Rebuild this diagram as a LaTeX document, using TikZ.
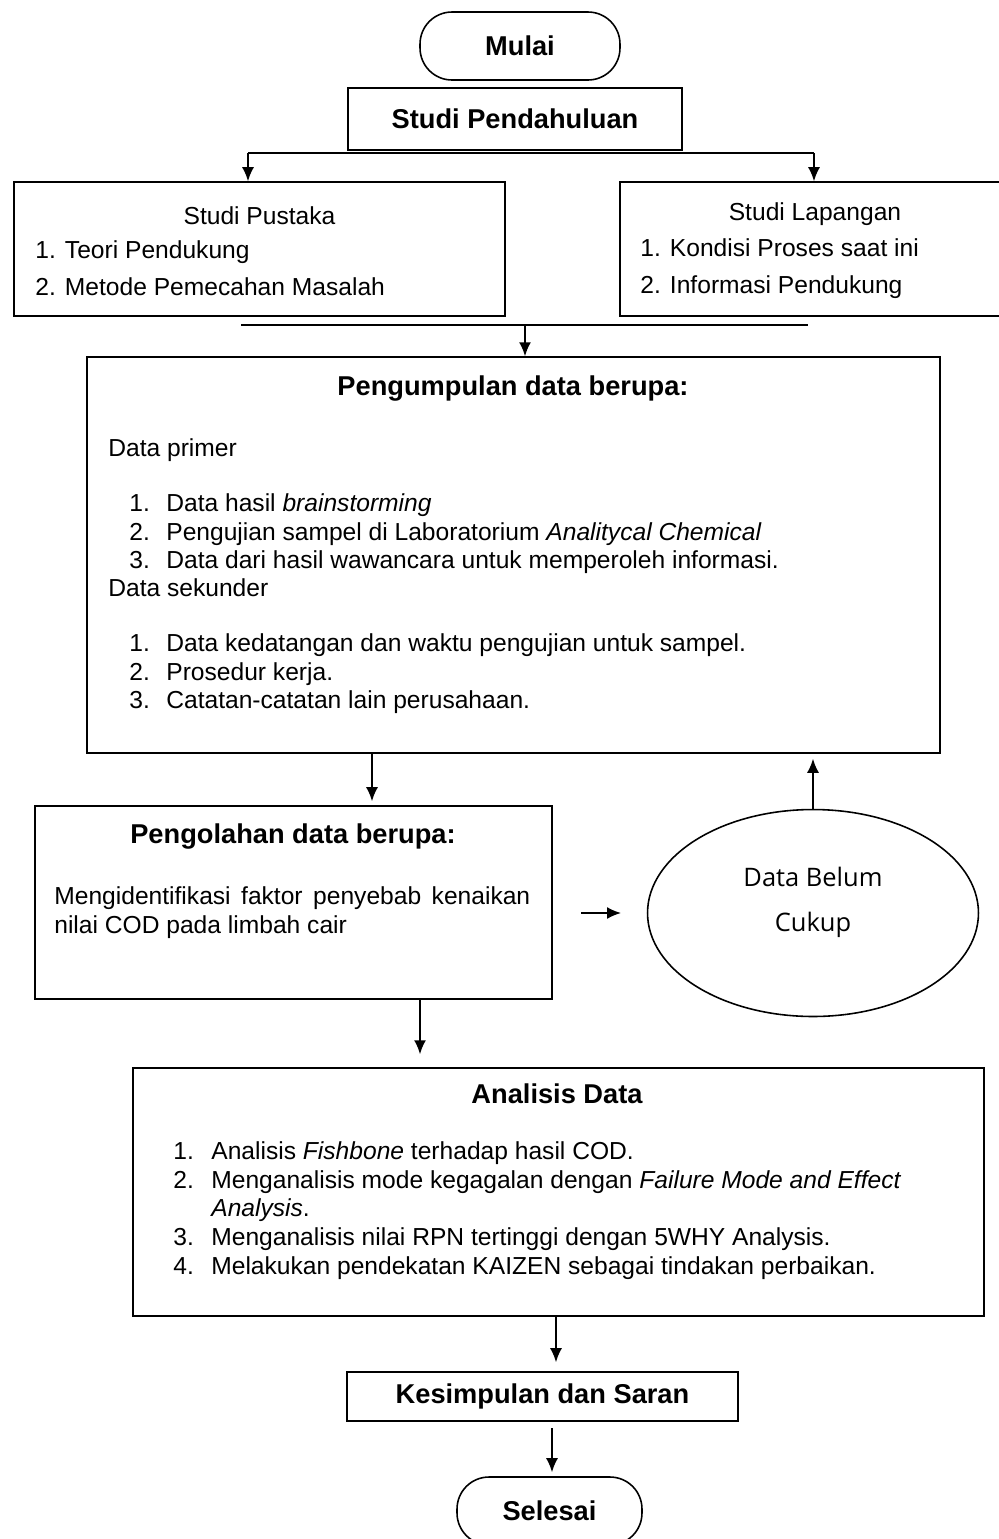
\documentclass[tikz,border=0pt]{standalone}
\usepackage{fontspec}
\setmainfont{Liberation Sans}
\newfontfamily\ellfont{Open Sans}
\usetikzlibrary{arrows.meta,shapes.geometric}

\tikzset{
  box/.style={draw,line width=0.9pt,inner sep=0pt},
  term/.style={draw,line width=0.9pt,rounded corners=0.64cm,inner sep=0pt},
  ttl/.style={font=\fontsize{15.5}{18}\selectfont\bfseries,anchor=base,inner sep=0pt},
  txt/.style={font=\fontsize{14}{16}\selectfont,anchor=base west,inner sep=0pt},
  arr/.style={-{Latex[length=0.28cm,width=0.24cm]},line width=1pt},
}

\begin{document}
\begin{tikzpicture}[x=0.02cm,y=-0.02cm]
\clip (0,0) rectangle (999,1539);

% awal
\node[term,minimum width=4cm,minimum height=1.36cm,font=\fontsize{15.5}{18}\selectfont\bfseries] (mulai) at (520,46) {Mulai};
\node[box,minimum width=6.68cm,minimum height=1.24cm,font=\fontsize{15.5}{18}\selectfont\bfseries] (pend) at (515,119) {Studi Pendahuluan};

% studi pustaka dan lapangan
\node[box,minimum width=9.82cm,minimum height=2.68cm] (pust) at (259.5,249) {};
\node[box,minimum width=7.7cm,minimum height=2.68cm] (lap) at (812.5,249) {};
\node[txt,anchor=base] (pustT) at (259.5,224) {Studi Pustaka};
\node[txt] (pust1) at (35,258) {1. Teori Pendukung};
\node[txt] (pust2) at (35,295) {2. Metode Pemecahan Masalah};
\node[txt,anchor=base] (lapT) at (815,220) {Studi Lapangan};
\node[txt] (lap1) at (640,256) {1. Kondisi Proses saat ini};
\node[txt] (lap2) at (640,293) {2. Informasi Pendukung};

% pengumpulan data
\node[box,minimum width=17.06cm,minimum height=7.92cm] (kump) at (513.5,555) {};
\node[ttl] (kumpT) at (513,395) {Pengumpulan data berupa:};
\node[txt] (prim) at (108,456) {Data primer};
\foreach \n/\y/\t in {1/511/{Data hasil \textit{brainstorming}},
                      2/540/{Pengujian sampel di Laboratorium \textit{Analitycal Chemical}},
                      3/568/{Data dari hasil wawancara untuk memperoleh informasi.}}
  {\node[txt] (primN\n) at (129,\y) {\n.};
   \node[txt] (prim\n) at (166,\y) {\t};}
\node[txt] (sek) at (108,596) {Data sekunder};
\foreach \n/\y/\t in {1/651/{Data kedatangan dan waktu pengujian untuk sampel.},
                      2/680/{Prosedur kerja.},
                      3/708/{Catatan-catatan lain perusahaan.}}
  {\node[txt] (sekN\n) at (129,\y) {\n.};
   \node[txt] (sek\n) at (166,\y) {\t};}

% pengolahan data
\node[box,minimum width=10.34cm,minimum height=3.86cm] (olah) at (293.5,902.5) {};
\node[ttl] (olahT) at (293,843) {Pengolahan data berupa:};
\node[txt] (olah1) at (54,904) {\makebox[9.52cm][s]{Mengidentifikasi faktor penyebab kenaikan}};
\node[txt] (olah2) at (54,933) {nilai COD pada limbah cair};

\node[draw,ellipse,line width=0.9pt,minimum width=6.62cm,minimum height=4.14cm,inner sep=0pt] (ell) at (813,913) {};
\node[font=\ellfont\fontsize{14.5}{17}\selectfont,anchor=base,inner sep=0pt] (ell1) at (813,886) {Data Belum};
\node[font=\ellfont\fontsize{14.5}{17}\selectfont,anchor=base,inner sep=0pt] (ell2) at (813,931) {Cukup};

% analisis data
\node[box,minimum width=17.02cm,minimum height=4.96cm] (ana) at (558.5,1192) {};
\node[ttl] (anaT) at (557,1103) {Analisis Data};
\foreach \n/\y/\t in {1/1159/{Analisis \textit{Fishbone} terhadap hasil COD.},
                      2/1188/{Menganalisis mode kegagalan dengan \textit{Failure Mode and Effect}},
                      3/1245/{Menganalisis nilai RPN tertinggi dengan 5WHY Analysis.},
                      4/1274/{Melakukan pendekatan KAIZEN sebagai tindakan perbaikan.}}
  {\node[txt] (anaN\n) at (173,\y) {\n.};
   \node[txt] (ana\n) at (211,\y) {\t};}
\node[txt] (ana2b) at (211,1216) {\textit{Analysis}.};

% akhir
\node[box,minimum width=7.82cm,minimum height=0.98cm,font=\fontsize{15.5}{18}\selectfont\bfseries] (kes) at (542.5,1396.5) {Kesimpulan dan Saran};
\node[term,minimum width=3.7cm,minimum height=1.36cm,font=\fontsize{15.5}{18}\selectfont\bfseries] (sel) at (549.5,1511) {Selesai};

% panah
\coordinate (jL) at (248,153);
\coordinate (jR) at (814,153);
\draw[line width=1.2pt] (jL) -- (jR);
\draw[arr] (jL) -- (jL |- pust.north);
\draw[arr] (jR) -- (jR |- lap.north);

\coordinate (mL) at (241,325);
\coordinate (mR) at (808,325);
\coordinate (mC) at (525,325);
\draw[line width=1.2pt] (mL) -- (mR);
\draw[arr] (mC) -- (mC |- kump.north);

\coordinate (k1) at (372,753);
\draw[arr,shorten >=0.08cm] (k1) -- (k1 |- olah.north);
\coordinate (e1) at (581,913);
\coordinate (e2) at (621,913);
\draw[arr] (e1) -- (e2);
\draw[arr,shorten >=0.1cm] (ell.north) -- (ell.north |- kump.south);
\coordinate (o1) at (420,999);
\draw[arr,shorten >=0.26cm] (o1) -- (o1 |- ana.north);
\coordinate (a1) at (556,1316);
\draw[arr,shorten >=0.18cm] (a1) -- (a1 |- kes.north);
\coordinate (s1) at (552,1421);
\draw[arr,shorten <=0.14cm,shorten >=0.08cm] (s1) -- (s1 |- sel.north);

\end{tikzpicture}
\end{document}
